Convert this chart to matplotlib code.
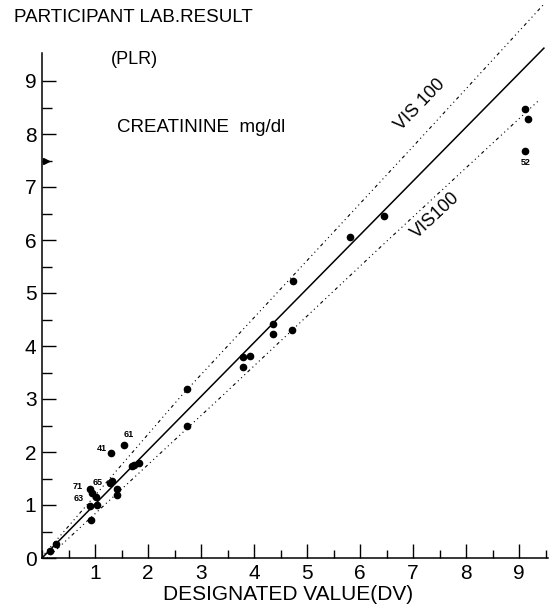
import matplotlib.pyplot as plt
from matplotlib.ticker import MultipleLocator

# --- data (creatinine, mg/dl) ---
dv = [0.15, 0.27, 0.90, 0.95, 1.01, 0.90, 1.03, 0.92, 1.29, 1.33, 1.41, 1.41,
      1.31, 1.55, 1.70, 1.74, 1.83, 2.73, 2.74, 3.80, 3.92, 3.80, 4.36, 4.35,
      4.71, 4.74, 5.81, 6.45, 9.12, 9.17, 9.12]
plr = [0.14, 0.26, 1.30, 1.23, 1.16, 0.98, 1.00, 0.72, 1.42, 1.45, 1.30, 1.19,
       1.99, 2.14, 1.73, 1.75, 1.79, 3.19, 2.50, 3.80, 3.81, 3.61, 4.42, 4.22,
       4.31, 5.23, 6.05, 6.45, 8.48, 8.28, 7.68]
lab_id = ["", "", "71", "63", "", "", "", "", "65", "", "", "",
          "41", "61", "", "", "", "", "", "", "", "", "", "",
          "", "", "", "", "", "", "52"]

# regression line and the two VIS 100 limits
fit_dv = [0.0, 9.47]
fit_plr = [0.0, 9.62]
upper_dv = [0.05, 2.62, 6.96, 9.47]
upper_plr = [0.08, 3.05, 7.72, 10.45]
lower_dv = [0.10, 3.38, 6.40, 9.37]
lower_plr = [0.00, 3.04, 5.88, 8.63]

x_ticks = [1, 2, 3, 4, 5, 6, 7, 8, 9]
y_ticks = [0, 1, 2, 3, 4, 5, 6, 7, 8, 9]

plt.rcParams['font.family'] = ['Liberation Sans', 'DejaVu Sans']

fig = plt.figure(figsize=(5.51, 6.11), dpi=100)
W, H = 551, 611
ax = fig.add_axes([42 / W, 53 / H, (W - 42) / W, (558 - 0) / H])
ax.set_xlim(0, (W - 42) / 53)
ax.set_ylim(0, 558 / 53)

# axes look
for s in ['top', 'right']:
    ax.spines[s].set_visible(False)
ax.spines['left'].set_bounds(0, 9.53)
ax.spines['bottom'].set_bounds(0, 9.55)
for s in ['left', 'bottom']:
    ax.spines[s].set_linewidth(1.1)

ax.set_xticks(x_ticks)
ax.set_yticks(y_ticks)
ax.xaxis.set_minor_locator(MultipleLocator(0.5))
ax.set_yticks([v + 0.5 for v in y_ticks[:-1]], minor=True)
ax.tick_params(axis='x', which='major', direction='in', length=10, width=1, pad=4,
               labelsize=15)
ax.tick_params(axis='x', which='minor', direction='in', length=6, width=1)
ax.tick_params(axis='y', which='major', direction='in', length=10, width=1, pad=4,
               labelsize=15)
ax.tick_params(axis='y', which='minor', direction='in', length=7, width=1)

# lines
vis_ls = (0, (1, 3, 1, 3, 1, 3, 3, 3))
ax.plot(fit_dv, fit_plr, color='black', lw=1.1, clip_on=False)
ax.plot(upper_dv, upper_plr, color='black', lw=0.8, ls=vis_ls, clip_on=False)
ax.plot(lower_dv, lower_plr, color='black', lw=0.8, ls=vis_ls, clip_on=False)

# participant results
ax.plot(dv, plr, 'o', color='black', ms=4.5, clip_on=False)

# lab numbers next to some points
offsets = {"61": (3.5, 7.5), "41": (-7, 3), "71": (-9, 2), "63": (-10, -4),
           "65": (-9.5, 0), "52": (0, -8)}
for x, y, lab in zip(dv, plr, lab_id):
    if lab:
        ax.annotate(lab, (x, y), xytext=offsets[lab], textcoords='offset points',
                    fontsize=6.5, fontweight='bold', ha='center', va='center')

# small flag on the y axis
ax.plot([0.08], [7.5], marker='>', color='black', ms=5, clip_on=False)

ax.text(7.13, 8.55, "VIS 100", fontsize=13, rotation=46, ha='center', va='center')
ax.text(7.43, 6.47, "VIS100", fontsize=13, rotation=43, ha='center', va='center')
ax.text(1.41, 8.13, "CREATININE  mg/dl", fontsize=13.5, ha='left', va='center')

fig.text(14 / W, 1 - 18 / H, "PARTICIPANT LAB.RESULT", fontsize=13.5, va='center')
fig.text(111 / W, 1 - 60 / H, "(PLR)", fontsize=13, va='center')
fig.text(288 / W, 1 - 595 / H, "DESIGNATED VALUE(DV)", fontsize=15,
         family=['Liberation Sans Narrow', 'Liberation Sans'], ha='center', va='center')

fig.savefig('out.png', dpi=100)
